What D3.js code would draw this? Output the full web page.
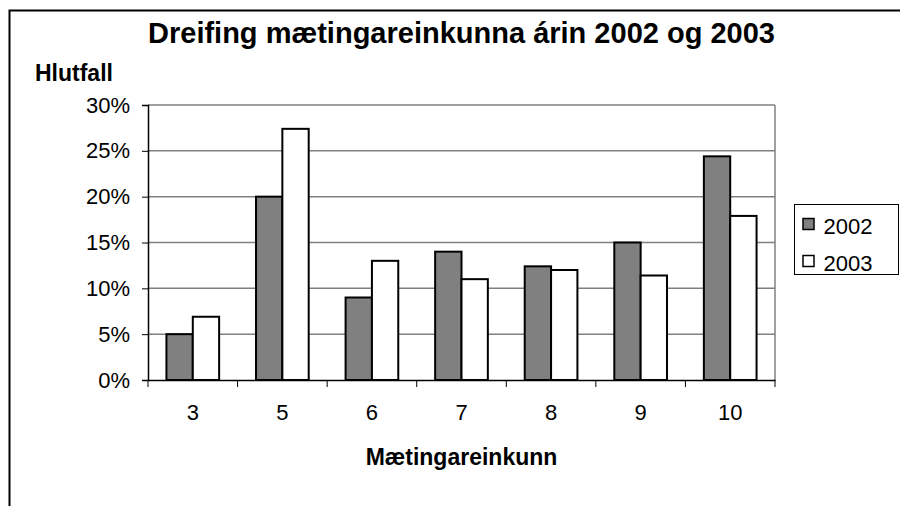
<!DOCTYPE html>
<html>
<head>
<meta charset="utf-8">
<script src="https://cdn.jsdelivr.net/npm/d3@7"></script>
<style>
  body { margin: 0; background: #fff; }
  svg { display: block; font-family: Arial, "Liberation Sans", sans-serif; }
</style>
</head>
<body>
<script>
// data
var categories = ["3", "5", "6", "7", "8", "9", "10"];
var seriesNames = ["2002", "2003"];
var values2002 = [5, 20, 9, 14, 12.4, 15, 24.4];
var values2003 = [6.9, 27.4, 13, 11, 12, 11.4, 17.9];
var yTicks = [0, 5, 10, 15, 20, 25, 30];

var W = 900, H = 506;
var margin = {top: 105, left: 148, right: 125, bottom: 126};
var width = W - margin.left - margin.right,
    height = H - margin.top - margin.bottom;

var svg = d3.select("body").append("svg")
    .attr("width", W)
    .attr("height", H);

// outer frame (runs off the right / bottom edge)
svg.append("rect")
    .attr("x", 9.5).attr("y", 10.5)
    .attr("width", W).attr("height", H)
    .attr("fill", "none")
    .attr("stroke", "#000")
    .attr("stroke-width", 2);

var g = svg.append("g")
    .attr("transform", "translate(" + margin.left + "," + margin.top + ")");

var x = d3.scaleBand()
    .domain(categories)
    .range([0, width])
    .paddingInner(0)
    .paddingOuter(0);

var x1 = d3.scaleBand()
    .domain(seriesNames)
    .range([0, x.bandwidth()])
    .paddingInner(0)
    .paddingOuter(0.7);

var y = d3.scaleLinear()
    .domain([0, 30])
    .range([height, 0]);

// gridlines
g.selectAll(".grid")
    .data(yTicks.slice(1))
  .enter().append("line")
    .attr("class", "grid")
    .attr("x1", 0).attr("x2", width)
    .attr("y1", function(d) { return y(d); })
    .attr("y2", function(d) { return y(d); })
    .attr("stroke", "#808080")
    .attr("stroke-width", 1.5);

// right edge of plot area
g.append("line")
    .attr("x1", width).attr("x2", width)
    .attr("y1", 0).attr("y2", height)
    .attr("stroke", "#808080")
    .attr("stroke-width", 1.5);

// bars
var rows = categories.map(function(c, i) {
  return {cat: c, vals: [
    {name: "2002", v: values2002[i]},
    {name: "2003", v: values2003[i]}
  ]};
});
var fills = {"2002": "#808080", "2003": "#ffffff"};

var grp = g.selectAll(".cat")
    .data(rows)
  .enter().append("g")
    .attr("class", "cat")
    .attr("transform", function(d) { return "translate(" + x(d.cat) + ",0)"; });

grp.selectAll("rect")
    .data(function(d) { return d.vals; })
  .enter().append("rect")
    .attr("x", function(d) { return x1(d.name); })
    .attr("width", x1.bandwidth())
    .attr("y", function(d) { return y(d.v); })
    .attr("height", function(d) { return height - y(d.v); })
    .attr("fill", function(d) { return fills[d.name]; })
    .attr("stroke", "#000")
    .attr("stroke-width", 2);

// y axis
var yAxis = g.append("g")
    .call(d3.axisLeft(y).tickValues(yTicks).tickFormat(function(d) { return d + "%"; })
      .tickSize(6).tickPadding(12));
yAxis.selectAll("text").style("font-size", "22px").attr("fill", "#000");

// x axis (ticks between categories)
var xAxis = g.append("g")
    .attr("transform", "translate(0," + height + ")")
    .call(d3.axisBottom(x).tickSize(0).tickPadding(24));
xAxis.selectAll("text").style("font-size", "22px").attr("fill", "#000");
xAxis.selectAll(".sep")
    .data(categories.map(function(c) { return x(c); }).concat([width]))
  .enter().append("line")
    .attr("class", "sep")
    .attr("x1", function(d) { return d; }).attr("x2", function(d) { return d; })
    .attr("y1", 0).attr("y2", 7)
    .attr("stroke", "#000");
g.selectAll(".domain").attr("stroke", "#000").attr("stroke-width", 1.5);

// titles
svg.append("text")
    .attr("x", margin.left + width / 2)
    .attr("y", 43)
    .attr("text-anchor", "middle")
    .style("font-size", "29px")
    .style("font-weight", "bold")
    .text("Dreifing mætingareinkunna árin 2002 og 2003");

svg.append("text")
    .attr("x", 35)
    .attr("y", 81)
    .style("font-size", "23px")
    .style("font-weight", "bold")
    .text("Hlutfall");

svg.append("text")
    .attr("x", margin.left + width / 2)
    .attr("y", 465)
    .attr("text-anchor", "middle")
    .style("font-size", "23px")
    .style("font-weight", "bold")
    .text("Mætingareinkunn");

// legend
var legend = svg.append("g")
    .attr("transform", "translate(794.5,204.5)");
legend.append("rect")
    .attr("width", 104).attr("height", 70)
    .attr("fill", "#fff")
    .attr("stroke", "#000");
var li = legend.selectAll(".li")
    .data(seriesNames)
  .enter().append("g")
    .attr("class", "li")
    .attr("transform", function(d, i) { return "translate(0," + (i * 37) + ")"; });
li.append("rect")
    .attr("x", 8.5).attr("y", 14)
    .attr("width", 11).attr("height", 11)
    .attr("fill", function(d) { return fills[d]; })
    .attr("stroke", "#000")
    .attr("stroke-width", 1.5);
li.append("text")
    .attr("x", 29).attr("y", 29.5)
    .style("font-size", "22px")
    .text(function(d) { return d; });
</script>
</body>
</html>
